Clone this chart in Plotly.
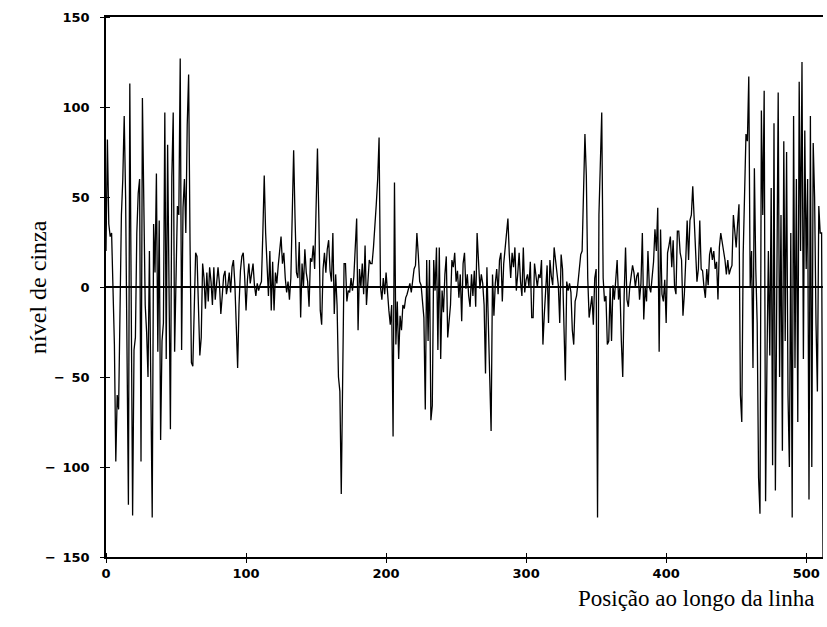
import plotly.graph_objects as go

# Grey-level profile sampled along one scan line (positions 0..512)
gray_000_059 = [
    20, 82, 35, 28, 30, -10, -32, -97, -60, -68,
    -20, 40, 60, 95, 50, -20, -121, 113, -40, -127,
    -35, -28, 30, 52, 60, -97, 105, 54, -10, -25,
    -50, 20, -45, -128, 35, 8, 63, -36, 37, -85,
    -30, -20, 97, -40, 79, 10, -79, 61, 97, -36,
    15, 45, 40, 127, -35, 44, 60, 30, 90, 118,
]
gray_060_239 = [
    26, -42, -44, -11, 19, 17, -5, -38, -28, 13,
    5, -12, 8, -8, 11, 3, -10, 11, -7, 4,
    11, 2, -15, -5, 6, 9, -4, 1, 8, -3,
    11, 15, 2, -21, -45, -10, 9, 17, 19, 6,
    -13, 4, 13, 2, 8, 13, 1, -5, 2, -2,
    1, 3, 30, 62, 30, 10, -5, 20, -13, 14,
    -13, 8, 2, 12, 19, 28, 13, 19, 5, -3,
    3, -7, 5, 36, 76, 38, 8, 5, 25, -17,
    13, 0, 21, 8, 3, -11, 16, 14, 23, 10,
    38, 77, 38, -13, -21, 10, 19, 8, 21, 26,
    9, 3, 30, -15, 7, -10, -50, -58, -115, -52,
    13, 13, -8, -2, -3, 5, -2, 6, 19, 38,
    -24, 10, 0, 13, -4, 23, -10, 2, 15, 13,
    13, 22, 38, 46, 60, 83, 0, -7, 5, -4,
    8, -6, -13, -21, -10, -83, 58, -32, -8, -40,
    -16, -24, -10, -12, -6, -4, 0, 2, -3, 5,
    10, 12, 30, 18, 3, 1, -10, -17, -68, 15,
    -30, 15, -74, -66, 15, -2, 22, -35, 22, -40,
]
gray_240_439 = [
    -2, -14, 7, 17, -28, -20, -10, 15, 11, 19,
    3, 9, -6, 7, -19, 13, 19, -1, 7, -5,
    -11, 7, -5, 9, -11, 30, 9, -1, 7, 2,
    -10, -48, 11, -20, -45, -80, 7, -16, 2, 10,
    -4, 15, 19, -8, 13, 23, 30, 38, 18, 5,
    19, 11, 22, -2, 7, 19, 3, -5, 22, -3,
    4, 7, 0, 14, -17, -17, 13, 7, 0, 7,
    5, 15, -32, -15, 2, 12, -20, 15, 6, 1,
    22, 15, 6, 1, -20, 18, 10, -20, -52, 3,
    -2, 2, -3, -24, -32, -8, -5, 2, 12, 18,
    20, 58, 85, 62, 5, -17, -11, -5, -21, 5,
    10, -128, 40, 75, 97, 5, -8, -5, -32, -30,
    0, -30, 1, -7, 6, 15, -7, 0, -30, -50,
    -5, 22, -7, -11, 0, 6, 12, 8, 0, 6,
    8, -7, 2, 30, -18, 0, -8, 20, 0, -3,
    6, 14, 32, 20, 44, -36, 32, -4, -8, 4,
    -20, 19, 23, 28, 11, 26, 0, -4, 31, 31,
    19, 15, -16, -4, 15, 37, 15, 37, 40, 56,
    38, 15, 3, 10, 37, 10, 9, 0, -6, 10,
    1, 18, 22, 15, 20, 10, 14, -7, 22, 30,
]
gray_440_512 = [
    26, 20, 15, 7, 15, 7, 10, 12, 40, 30,
    22, 35, 46, -60, -75, 18, 55, 85, 81, 117,
    0, 20, -45, 66, 10, -20, -106, -126, 98, 40,
    109, -119, -40, 20, -38, 55, -99, 91, -113, 0,
    108, -50, 40, -91, 81, -30, 75, -60, -100, 30,
    -128, 95, -45, 60, -75, 114, 20, 125, -40, 87,
    10, 60, -118, 95, -100, 80, 50, -20, -58, 45,
    30, 30, -150,
]

gray = gray_000_059 + gray_060_239 + gray_240_439 + gray_440_512
positions = list(range(len(gray)))

x_ticks = [0, 100, 200, 300, 400, 500]
y_ticks = [-150, -100, -50, 0, 50, 100, 150]


def y_label(v):
    # negative labels carry a spaced minus sign
    return "\u2212\u2002" + str(-v) if v < 0 else str(v)


fig = go.Figure()
fig.add_trace(go.Scatter(
    x=positions, y=gray, mode="lines",
    line=dict(color="black", width=1.3),
    hoverinfo="skip", showlegend=False,
))

tick_font = dict(family="DejaVu Sans", size=13, color="black", weight="bold")

fig.update_layout(
    width=827, height=627,
    margin=dict(l=106, r=4, t=17, b=70),
    paper_bgcolor="white", plot_bgcolor="white",
    xaxis=dict(
        range=[0, 512], tickvals=x_ticks, ticktext=[str(v) for v in x_ticks],
        showline=True, mirror=True, linecolor="black", linewidth=1.6,
        ticks="outside", ticklen=4, tickcolor="black", tickwidth=1.2,
        minor=dict(tickvals=x_ticks, ticks="inside", ticklen=4,
                   tickcolor="black", tickwidth=1.2),
        showgrid=False, zeroline=False, tickfont=tick_font,
    ),
    yaxis=dict(
        range=[-150, 150], tickvals=y_ticks,
        ticktext=[y_label(v) for v in y_ticks],
        showline=True, linecolor="black", linewidth=1.6,
        ticks="outside", ticklen=4, tickcolor="black", tickwidth=1.2,
        minor=dict(tickvals=y_ticks, ticks="inside", ticklen=4,
                   tickcolor="black", tickwidth=1.2),
        ticklabelstandoff=8,
        showgrid=False,
        zeroline=True, zerolinecolor="black", zerolinewidth=1.6,
        tickfont=tick_font,
    ),
    annotations=[
        dict(text="Posição ao longo da linha", xref="paper", yref="paper",
             x=0.99, y=-0.05, xanchor="right", yanchor="top", showarrow=False,
             font=dict(family="Liberation Serif", size=23, color="black")),
        dict(text="nível de cinza", xref="paper", yref="paper",
             x=-0.095, y=0.5, xanchor="center", yanchor="middle", textangle=-90,
             showarrow=False,
             font=dict(family="Liberation Serif", size=24, color="black")),
    ],
)

fig.write_html("out.html")
